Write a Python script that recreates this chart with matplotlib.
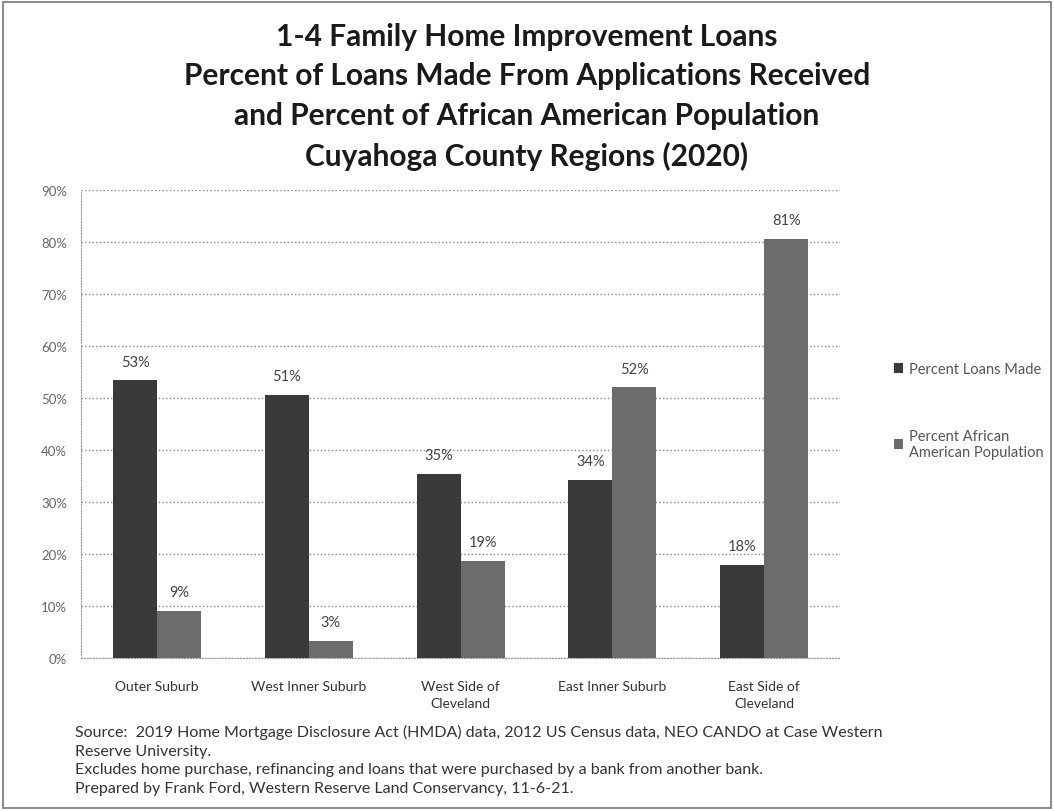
import numpy as np
import matplotlib.pyplot as plt
from matplotlib.patches import Rectangle

regions = ["Outer Suburb", "West Inner Suburb", "West Side of\nCleveland",
           "East Inner Suburb", "East Side of\nCleveland"]
loans_made = [53.4, 50.6, 35.4, 34.3, 17.9]
african_american = [9.1, 3.3, 18.7, 52.1, 80.6]
series_names = ["Percent Loans Made", "Percent African\nAmerican Population"]
yticks = [0, 10, 20, 30, 40, 50, 60, 70, 80, 90]

plt.rcParams['font.family'] = ['Lato', 'DejaVu Sans']

fig = plt.figure(figsize=(10.54, 8.12), dpi=100)
ax = fig.add_axes([0.077, 0.1884, 0.72, 0.5764])

x = np.arange(len(regions))
w = 0.29
b1 = ax.bar(x - w / 2, loans_made, w, color="#3a3a3a", label=series_names[0], zorder=3)
b2 = ax.bar(x + w / 2, african_american, w, color="#6c6c6c", label=series_names[1], zorder=3)

for bars, vals in ((b1, loans_made), (b2, african_american)):
    for r, v in zip(bars, vals):
        ax.text(r.get_x() + r.get_width() / 2, v + 2.2, "%d%%" % round(v),
                ha="center", va="bottom", fontsize=10.5, color="#444444")

ax.set_ylim(0, 90)
ax.set_xlim(-0.5, len(regions) - 0.5)
ax.set_yticks(yticks)
ax.set_yticklabels(["%d%%" % t for t in yticks], fontsize=9.5, color="#666666")
ax.set_xticks(x)
ax.set_xticklabels(regions, fontsize=10, color="#333333", linespacing=1.5)
ax.tick_params(axis="x", length=0, pad=16)
ax.tick_params(axis="y", length=0, pad=10)
ax.grid(axis="y", linestyle=":", color="#888888", linewidth=1, zorder=0)
for s in ["top", "right"]:
    ax.spines[s].set_visible(False)
for s in ["left", "bottom"]:
    ax.spines[s].set_linestyle(":")
    ax.spines[s].set_color("#999999")

fig.legend(handles=[b1, b2], labels=series_names, loc="upper left",
           bbox_to_anchor=(0.836, 0.569), frameon=False,
           fontsize=10.5, handlelength=0.6, handleheight=0.6, handletextpad=0.4,
           labelspacing=3.6, labelcolor="#555555")

fig.text(0.5, 0.972, "1-4 Family Home Improvement Loans\n"
         "Percent of Loans Made From Applications Received\n"
         "and Percent of African American Population\n"
         "Cuyahoga County Regions (2020)",
         ha="center", va="top", fontsize=21.5, fontweight="bold",
         color="#1a1a1a", linespacing=1.5)

fig.text(0.071, 0.107, "Source:  2019 Home Mortgage Disclosure Act (HMDA) data, 2012 US Census data, "
         "NEO CANDO at Case Western\nReserve University.\n"
         "Excludes home purchase, refinancing and loans that were purchased by a bank from another bank.\n"
         "Prepared by Frank Ford, Western Reserve Land Conservancy, 11-6-21.",
         ha="left", va="top", fontsize=11.5, color="#333333", linespacing=1.42)

fig.patches.append(Rectangle((0.003, 0.004), 0.994, 0.992, transform=fig.transFigure,
                             fill=False, edgecolor="#777777", linewidth=1.2))

fig.savefig("out.png", dpi=100)
